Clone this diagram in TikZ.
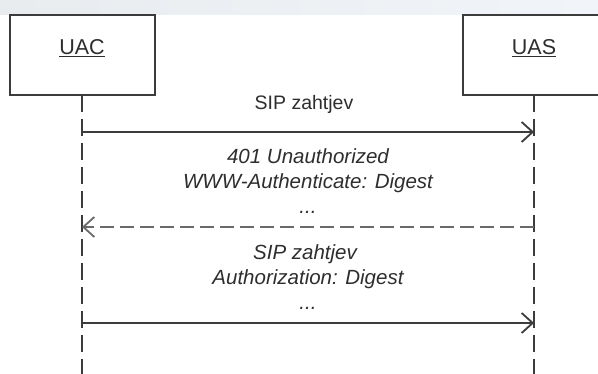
\documentclass[tikz,border=0pt]{standalone}
\usepackage{fontspec}
\setmainfont{Liberation Sans}
\usetikzlibrary{arrows.meta}
\definecolor{ink}{HTML}{2E2E2E}
\definecolor{lineink}{HTML}{3C3C3C}
\definecolor{dashink}{HTML}{6A6A6A}
\definecolor{bandL}{HTML}{E8ECEF}
\definecolor{bandR}{HTML}{F1F5F9}
\tikzset{
  actorbox/.style={draw=lineink, line width=1.6pt, fill=white, minimum width=145pt, minimum height=80pt, inner sep=0pt},
  actorlabel/.style={text=ink, font=\fontsize{21.5}{25}\selectfont, anchor=base},
  msglabel/.style={text=ink, font=\fontsize{19.5}{25}\selectfont, anchor=base, inner sep=0pt},
  itlabel/.style={msglabel, font=\fontsize{20.5}{25}\selectfont\itshape},
  lifeline/.style={draw=lineink, line width=1.7pt, dash pattern=on 17pt off 7pt},
  msgarrow/.style={draw=lineink, line width=1.8pt, -{Straight Barb[length=11pt,width=20pt,line width=1.8pt]}},
  retarrow/.style={draw=dashink, line width=2.6pt, dash pattern=on 14pt off 6pt, -{Straight Barb[length=11pt,width=20pt,line width=1.8pt]}},
}
\begin{document}
\begin{tikzpicture}[x=1pt,y=-1pt]
\useasboundingbox (0,0) rectangle (598,374);
\fill[white] (0,0) rectangle (598,374);
\shade[left color=bandL, right color=bandR] (0,0) rectangle (598,15);
% actors
\node[actorbox] (uacbox) at (82.5,55) {};
\node[actorbox] (uasbox) at (535.5,55) {};
\node[actorlabel] (uac) at (82,55) {\underline{UAC}};
\node[actorlabel] (uas) at (534,55) {\underline{UAS}};
% lifelines
\coordinate (uacTop) at (82,95);
\coordinate (uacEnd) at (82,380);
\coordinate (uasTop) at (534,95);
\coordinate (uasEnd) at (534,380);
\draw[lifeline] (uacTop) -- (uacEnd);
\draw[lifeline] (uasTop) -- (uasEnd);
% message 1
\coordinate (m1a) at (82,132);
\coordinate (m1b) at (534,132);
\draw[msgarrow] (m1a) -- (m1b);
\node[msglabel] (l1) at (304,110) {SIP zahtjev};
% message 2
\coordinate (m2a) at (534,227);
\coordinate (m2b) at (82,227);
\draw[retarrow] (m2a) -- (m2b);
\node[itlabel] (l2a) at (308,164) {401 Unauthorized};
\node[itlabel] (l2b) at (308,189) {WWW-Authenticate: Digest};
\node[itlabel] (l2c) at (308,214) {...};
% message 3
\coordinate (m3a) at (82,323);
\coordinate (m3b) at (534,323);
\draw[msgarrow] (m3a) -- (m3b);
\node[itlabel] (l3a) at (305,260) {SIP zahtjev};
\node[itlabel] (l3b) at (308,285) {Authorization: Digest};
\node[itlabel] (l3c) at (308,310) {...};
\end{tikzpicture}
\end{document}
